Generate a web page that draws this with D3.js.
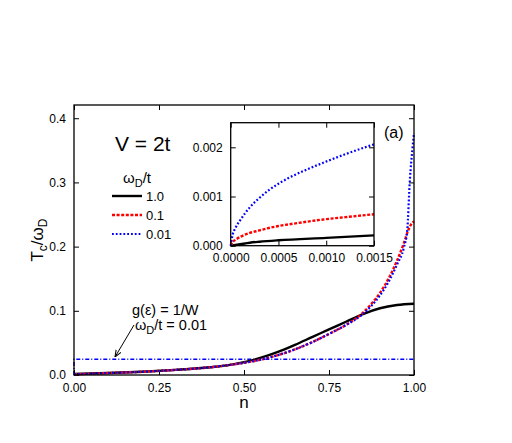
<!DOCTYPE html>
<html><head><meta charset="utf-8">
<script src="https://cdn.jsdelivr.net/npm/d3@7"></script>
<style>
body{margin:0;background:#fff;}
text{font-family:"Liberation Sans Narrow","Liberation Sans",Arial,sans-serif;fill:#000;}
</style></head>
<body><svg id="c" width="512" height="443"></svg>
<script>
// ---- data ----
const mainXTicks = [0, 0.25, 0.5, 0.75, 1.0];
const mainYTicks = [0, 0.1, 0.2, 0.3, 0.4];
const insetXTicks = [0, 0.0005, 0.0010, 0.0015];
const insetYTicks = [0, 0.001, 0.002];
const seriesNames = ["1.0", "0.1", "0.01"];

const blackN = [0,0.1,0.2,0.3,0.4,0.45,0.5,0.55,0.6,0.65,0.7,0.75,0.8,0.85,0.9,0.95,1.0];
const blackT = [0.0015,0.003,0.005,0.008,0.012,0.015,0.020,0.027,0.036,0.047,0.059,0.071,0.083,0.095,0.104,0.109,0.111];
const redN = [0,0.1,0.2,0.3,0.4,0.5,0.55,0.6,0.65,0.7,0.75,0.8,0.85,0.875,0.9,0.925,0.95,0.97,0.985,0.995,1.0];
const redT = [0.001,0.003,0.005,0.008,0.012,0.019,0.024,0.031,0.040,0.051,0.064,0.078,0.097,0.111,0.128,0.150,0.178,0.205,0.228,0.237,0.239];
const blueN = [0,0.1,0.2,0.3,0.4,0.5,0.55,0.6,0.65,0.7,0.75,0.8,0.85,0.875,0.9,0.925,0.95,0.97,0.98,0.988,0.995,1.0];
const blueT = [0.001,0.003,0.005,0.008,0.012,0.019,0.024,0.031,0.040,0.051,0.064,0.078,0.095,0.108,0.124,0.145,0.172,0.198,0.225,0.305,0.35,0.377];
const flatN = [0, 0, 1.0];
const flatT = [0, 0.0245, 0.0245];

const insBlackX = [0,0.0001,0.0002,0.0003,0.0005,0.001,0.0015];
const insBlackY = [0,0.00003,0.00006,0.00008,0.00011,0.00016,0.00021];
const insRedX = [0,0.00002,0.00005,0.0001,0.0002,0.0003,0.0004,0.0005,0.0007,0.001,0.0012,0.0015];
const insRedY = [0,0.00007,0.00012,0.00018,0.00026,0.00031,0.00036,0.0004,0.00046,0.00054,0.00058,0.00064];
const insBlueX = [0,0.00002,0.00005,0.0001,0.00015,0.0002,0.0003,0.0004,0.0005,0.0006,0.0008,0.001,0.0012,0.0015];
const insBlueY = [0,0.00022,0.00036,0.00052,0.00066,0.00078,0.00097,0.00113,0.00126,0.00137,0.00155,0.00171,0.00186,0.00206];

// ---- drawing ----
const svg = d3.select("#c");
const zip = (a,b) => a.map((v,i)=>[v,b[i]]);

const x = d3.scaleLinear().domain([0,1]).range([74,414]);
const y = d3.scaleLinear().domain([0,0.4206]).range([375,105]);

const styles = [
  {color:"#000", dash:null, w:2.4},
  {color:"#ff0000", dash:"3,1.6", w:2.4},
  {color:"#0000ff", dash:"1.8,2", w:2.2}
];

function frame(g, xs, ys, xt, yt, xfmt, yfmt, fs){
  const [x0,x1] = xs.range(), [y0,y1] = ys.range();
  g.append("rect").attr("x",x0).attr("y",y1).attr("width",x1-x0).attr("height",y0-y1)
    .attr("fill","#fff").attr("stroke","none");
  const ax = [
    [d3.axisBottom(xs).tickValues(xt).tickSize(-5).tickFormat(xfmt), `translate(0,${y0})`],
    [d3.axisTop(xs).tickValues(xt).tickSize(-5).tickFormat(""), `translate(0,${y1})`],
    [d3.axisLeft(ys).tickValues(yt).tickSize(-5).tickFormat(yfmt), `translate(${x0},0)`],
    [d3.axisRight(ys).tickValues(yt).tickSize(-5).tickFormat(""), `translate(${x1},0)`]
  ];
  ax.forEach(([a,t])=>{
    const gg = g.append("g").attr("transform",t).call(a.tickPadding(8));
    gg.select(".domain").remove();
    gg.selectAll("line").attr("stroke","#000").attr("stroke-width",1);
    gg.selectAll("text").attr("font-size",fs).attr("font-family",null);
  });
}

// main frame
const mainG = svg.append("g");
frame(mainG, x, y, mainXTicks, mainYTicks, d3.format(".2f"), d3.format(".1f"), 12);

const line = d3.line().x(d=>x(d[0])).y(d=>y(d[1])).curve(d3.curveMonotoneX);
const mainData = [zip(blackN,blackT), zip(redN,redT), zip(blueN,blueT)];

svg.append("path").datum(zip(flatN,flatT))
  .attr("d", d3.line().x(d=>x(d[0])).y(d=>y(d[1])))
  .attr("fill","none").attr("stroke","#0000ff").attr("stroke-width",1.4)
  .attr("stroke-dasharray","4,2,1,2");

mainData.forEach((d,i)=>{
  svg.append("path").datum(d).attr("d",line).attr("fill","none")
    .attr("stroke",styles[i].color).attr("stroke-width",styles[i].w)
    .attr("stroke-dasharray",styles[i].dash);
});

svg.append("rect").attr("x",74).attr("y",105).attr("width",340).attr("height",270)
  .attr("fill","none").attr("stroke","#000").attr("stroke-width",1.3);

// inset
const xi = d3.scaleLinear().domain([0,0.0015]).range([230.7,374]);
const yi = d3.scaleLinear().domain([0,0.0025]).range([245.7,122.7]);
const insG = svg.append("g");
frame(insG, xi, yi, insetXTicks, insetYTicks, d3.format(".4f"), d3.format(".3f"), 12);
const linei = d3.line().x(d=>xi(d[0])).y(d=>yi(d[1])).curve(d3.curveMonotoneX);
const insData = [zip(insBlackX,insBlackY), zip(insRedX,insRedY), zip(insBlueX,insBlueY)];
insData.forEach((d,i)=>{
  insG.append("path").datum(d).attr("d",linei).attr("fill","none")
    .attr("stroke",styles[i].color).attr("stroke-width",styles[i].w)
    .attr("stroke-dasharray",styles[i].dash);
});
insG.append("rect").attr("x",230.7).attr("y",122.7).attr("width",374-230.7).attr("height",245.7-122.7)
  .attr("fill","none").attr("stroke","#000").attr("stroke-width",1.3);

// axis labels
svg.append("text").attr("x",244).attr("y",408).attr("text-anchor","middle").attr("font-size",17).text("n");
const yl = svg.append("text").attr("transform","translate(43,240) rotate(-90)").attr("text-anchor","middle").attr("font-size",17);
yl.append("tspan").text("T");
yl.append("tspan").attr("font-size",12).attr("dy",4).text("c");
yl.append("tspan").attr("dy",-4).text("/ω");
yl.append("tspan").attr("font-size",12).attr("dy",4).text("D");

// legend
svg.append("text").attr("x",115).attr("y",151).attr("font-size",21).text("V = 2t");
const lt = svg.append("text").attr("x",123).attr("y",183).attr("font-size",15);
lt.append("tspan").text("ω");
lt.append("tspan").attr("font-size",11).attr("dy",4).text("D");
lt.append("tspan").attr("dy",-4).text("/t");
const legY = [196, 215, 234];
seriesNames.forEach((s,i)=>{
  svg.append("line").attr("x1",112).attr("x2",142).attr("y1",legY[i]).attr("y2",legY[i])
    .attr("stroke",styles[i].color).attr("stroke-width",styles[i].w).attr("stroke-dasharray",styles[i].dash);
  svg.append("text").attr("x",146).attr("y",legY[i]+5).attr("font-size",13).text(s);
});

svg.append("text").attr("x",384).attr("y",138).attr("font-size",16).text("(a)");

// annotation
svg.append("text").attr("x",132).attr("y",315).attr("font-size",14.5).text("g(ε) = 1/W");
const an = svg.append("text").attr("x",135).attr("y",330).attr("font-size",14.5);
an.append("tspan").text("ω");
an.append("tspan").attr("font-size",11).attr("dy",4).text("D");
an.append("tspan").attr("dy",-4).text("/t = 0.01");
svg.append("defs").append("marker").attr("id","ah").attr("viewBox","0 0 10 10")
  .attr("refX",10).attr("refY",5).attr("markerWidth",7).attr("markerHeight",7).attr("orient","auto")
  .append("path").attr("d","M0,1 L10,5 L0,9").attr("fill","none").attr("stroke","#000").attr("stroke-width",1.5);
svg.append("line").attr("x1",134).attr("y1",325).attr("x2",115).attr("y2",357)
  .attr("stroke","#000").attr("stroke-width",1).attr("marker-end","url(#ah)");
</script></body></html>
